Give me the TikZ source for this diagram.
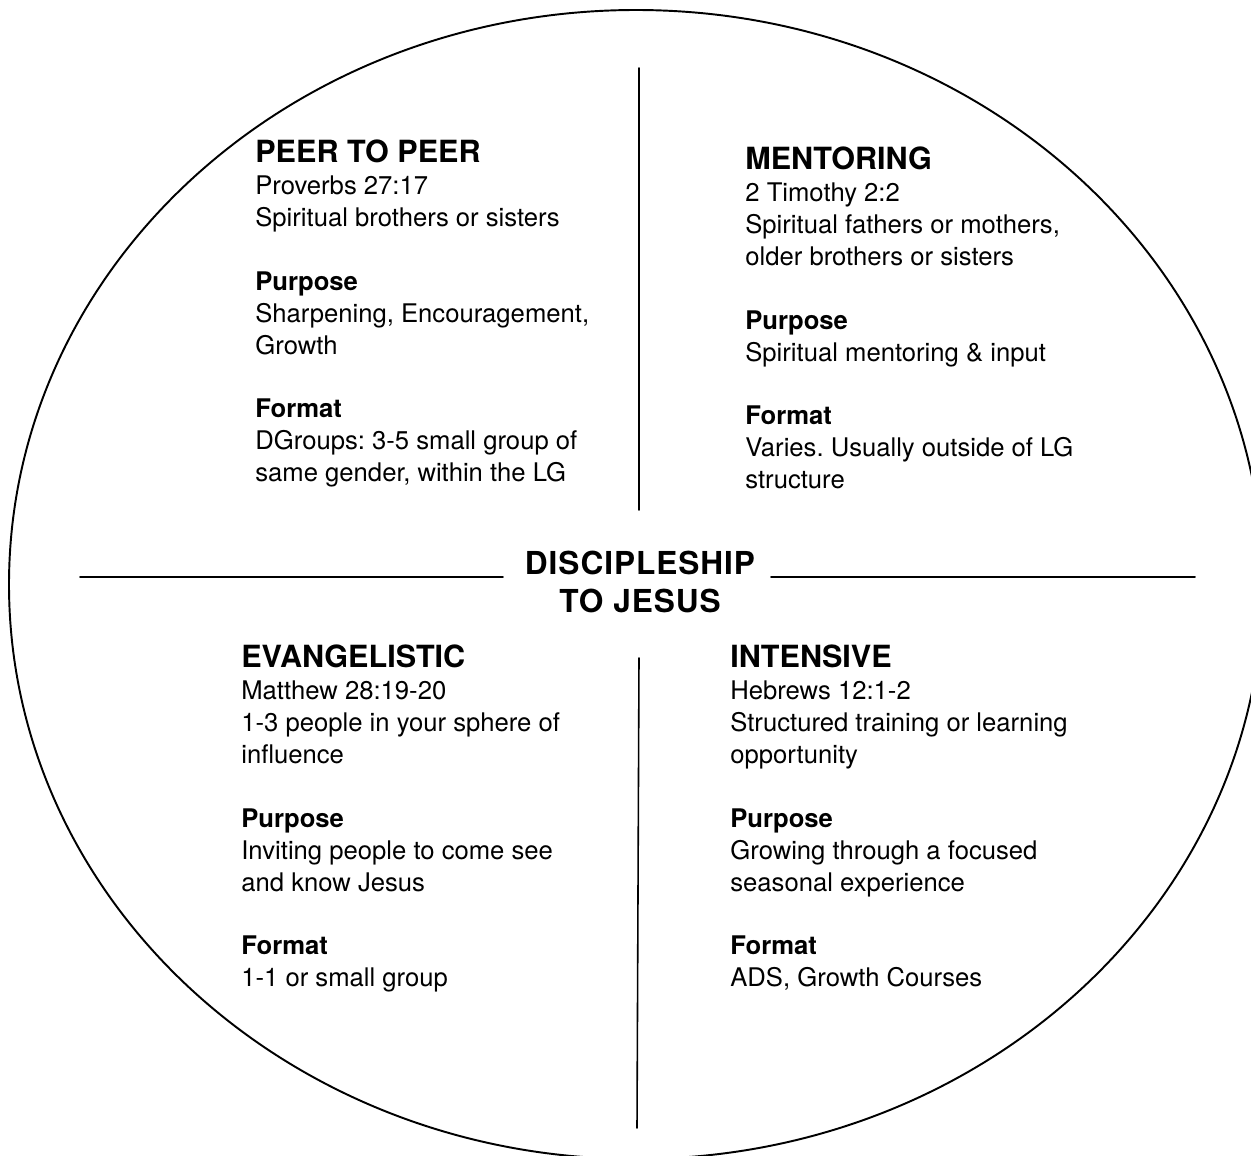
\documentclass[tikz,border=0pt]{standalone}
\usepackage{fontspec}
\setmainfont{TeX Gyre Heros}
\usetikzlibrary{positioning}
\frenchspacing
\newcommand{\quadtitle}{\fontsize{17.4pt}{18.7pt}\selectfont\bfseries}
\newcommand{\centretitle}{\fontsize{18pt}{21.5pt}\selectfont\bfseries\addfontfeatures{LetterSpace=3}}
\newcommand{\blurbfont}{\fontsize{14.6pt}{18.14pt}\selectfont}

\begin{document}
\begin{tikzpicture}[x=0.02cm,y=-0.02cm,line cap=round]
        \tikzstyle{heading}=[inner sep=0pt,anchor=north west,font=\quadtitle]
        \tikzstyle{blurb}=[inner sep=0pt,align=left,font=\blurbfont]
        \tikzstyle{divider}=[draw,line width=1.1pt]
        \useasboundingbox (0,0) rectangle (1251,1156);
        \clip (0,0) rectangle (1251,1156);
        \draw[line width=1.1pt] (636,584.5) ellipse [x radius=627,y radius=574.5];

        % centre
        \node [inner sep=0pt,anchor=north,align=center,font=\centretitle] (centre) at (640,551) {DISCIPLESHIP\\TO JESUS};

        % top left
        \node [heading] (peer) at (255,139) {PEER TO PEER};
        \node [blurb, below=0.26cm of peer.south west, anchor=north west] (peertxt)
          {Proverbs 27:17\\ Spiritual brothers or sisters\\[18.14pt]
           \textbf{Purpose}\\ Sharpening, Encouragement,\\ Growth\\[18.14pt]
           \textbf{Format}\\ DGroups: 3-5 small group of\\ same gender, within the LG};

        % top right
        \node [heading] (mentor) at (745,146) {MENTORING};
        \node [blurb, below=0.26cm of mentor.south west, anchor=north west] (mentortxt)
          {2 Timothy 2:2\\ Spiritual fathers or mothers,\\ older brothers or sisters\\[18.14pt]
           \textbf{Purpose}\\ Spiritual mentoring \& input\\[18.14pt]
           \textbf{Format}\\ Varies. Usually outside of LG\\ structure};

        % bottom left
        \node [heading] (evang) at (241,644) {EVANGELISTIC};
        \node [blurb, below=0.26cm of evang.south west, anchor=north west] (evangtxt)
          {Matthew 28:19-20\\ 1-3 people in your sphere of\\ influence\\[18.14pt]
           \textbf{Purpose}\\ Inviting people to come see\\ and know Jesus\\[18.14pt]
           \textbf{Format}\\ 1-1 or small group};

        % bottom right
        \node [heading] (intense) at (730,644) {INTENSIVE};
        \node [blurb, below=0.26cm of intense.south west, anchor=north west] (intensetxt)
          {Hebrews 12:1-2\\ Structured training or learning\\ opportunity\\[18.14pt]
           \textbf{Purpose}\\ Growing through a focused\\ seasonal experience\\[18.14pt]
           \textbf{Format}\\ ADS, Growth Courses};

        % dividers
        \coordinate (ntop) at (639,68);
        \coordinate (nbot) at (639,510);
        \coordinate (wleft) at (80,577);
        \coordinate (wright) at (503,577);
        \coordinate (eleft) at (771,577);
        \coordinate (eright) at (1195,577);
        \coordinate (stop) at (639,658);
        \coordinate (sbot) at (637,1128);
        \path[divider,line width=0.9pt] (ntop) -- (nbot);
        \path[divider] (wleft) -- (wright);
        \path[divider] (eleft) -- (eright);
        \path[divider,line width=0.9pt] (stop) -- (sbot);
\end{tikzpicture}
\end{document}
